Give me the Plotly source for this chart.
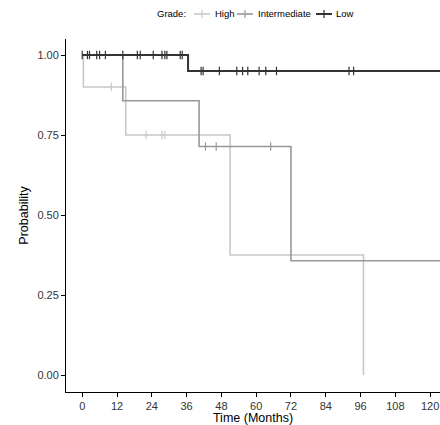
import plotly.graph_objects as go

# Step-curve data (Kaplan-Meier estimates), time in months
high_t = [0, 0.4, 15, 51, 97]
high_s = [1.0, 0.9, 0.75, 0.375, 0.0]
high_cens_t = [10, 22, 27.5, 28.5]
high_cens_s = [0.9, 0.75, 0.75, 0.75]

inter_t = [0, 14, 40.3, 72, 124]
inter_s = [1.0, 0.857, 0.714, 0.357, 0.357]
inter_cens_t = [42.5, 46.2, 65]
inter_cens_s = [0.714, 0.714, 0.714]

low_t = [0, 36.5, 124]
low_s = [1.0, 0.95, 0.95]
low_cens_t = [0, 1.8, 2.5, 5, 6, 8, 14, 19, 20, 24.5, 27.5, 28.5, 29.2, 33.8, 34.5,
              41, 41.7, 47.3, 53.3, 55.3, 57.1, 61, 63.3, 67, 92, 93.6]
low_cens_s = [1.0] * 15 + [0.95] * 11

x_ticks = [0, 12, 24, 36, 48, 60, 72, 84, 96, 108, 120]
y_ticks = [0, 0.25, 0.5, 0.75, 1.0]
y_labels = ["0.00", "0.25", "0.50", "0.75", "1.00"]

group_names = ["High", "Intermediate", "Low"]
group_colors = ["#c8c8c8", "#989898", "#333333"]
group_widths = [1.6, 1.6, 2.0]

series = [
    (high_t, high_s, high_cens_t, high_cens_s),
    (inter_t, inter_s, inter_cens_t, inter_cens_s),
    (low_t, low_s, low_cens_t, low_cens_s),
]

W, H = 440, 425
ML, MR, MT, MB = 66, 0, 39, 33
PW, PH = W - ML - MR, H - MT - MB

def px_x(px):
    return (px - ML) / PW

def px_y(py):
    return (H - MB - py) / PH

fig = go.Figure()
for name, (t, s, ct, cs), col, w in zip(group_names, series, group_colors, group_widths):
    fig.add_trace(go.Scatter(x=t, y=s, mode="lines", line=dict(color=col, width=w, shape="hv"),
                             name=name, showlegend=False, hoverinfo="skip"))
    fig.add_trace(go.Scatter(x=ct, y=cs, mode="markers",
                             marker=dict(symbol="line-ns-open", size=6, color=col,
                                         line=dict(color=col, width=1.2)),
                             showlegend=False, hoverinfo="skip"))

# Custom compact legend (positions in pixels)
legend_y = 14
shapes = []
annotations = [dict(text="Grade:", x=px_x(155), y=px_y(legend_y), xref="paper", yref="paper",
                    xanchor="left", yanchor="middle", showarrow=False,
                    font=dict(size=9.5, color="#000000"))]
sym_x = [194, 237, 316]
txt_x = [213, 256, 334]
for name, col, w, sx, tx in zip(group_names, group_colors, group_widths, sym_x, txt_x):
    shapes.append(dict(type="line", xref="paper", yref="paper",
                       x0=px_x(sx), x1=px_x(sx + 16), y0=px_y(legend_y), y1=px_y(legend_y),
                       line=dict(color=col, width=w)))
    shapes.append(dict(type="line", xref="paper", yref="paper",
                       x0=px_x(sx + 8), x1=px_x(sx + 8), y0=px_y(legend_y - 4), y1=px_y(legend_y + 4),
                       line=dict(color=col, width=1.2)))
    annotations.append(dict(text=name, x=px_x(tx), y=px_y(legend_y), xref="paper", yref="paper",
                            xanchor="left", yanchor="middle", showarrow=False,
                            font=dict(size=9.5, color="#000000")))

fig.update_layout(
    width=W, height=H,
    margin=dict(l=ML, r=MR, t=MT, b=MB),
    paper_bgcolor="white", plot_bgcolor="white",
    font=dict(family="Liberation Sans, Arial, sans-serif", color="#000000"),
    showlegend=False,
    shapes=shapes,
    annotations=annotations,
    xaxis=dict(range=[-5.6, 123.4], tickvals=x_ticks, ticktext=[str(v) for v in x_ticks],
               automargin=False,
               showgrid=False, zeroline=False, showline=True, linecolor="#000000", linewidth=1,
               ticks="outside", ticklen=4, tickcolor="#000000", tickfont=dict(size=11, color="#333333"),
               title=dict(text="Time (Months)", font=dict(size=12.5, color="#000000"), standoff=0)),
    yaxis=dict(range=[-0.053, 1.05], tickvals=y_ticks, ticktext=y_labels,
               automargin=False,
               showgrid=False, zeroline=False, showline=True, linecolor="#000000", linewidth=1,
               ticks="outside", ticklen=4, tickcolor="#000000", tickfont=dict(size=11, color="#333333"),
               title=dict(text="Probability", font=dict(size=12.5, color="#000000"), standoff=6)),
)

fig.write_html("out.html", config={"displayModeBar": False},
               post_script="document.body.style.margin='0';document.body.style.padding='0';")
